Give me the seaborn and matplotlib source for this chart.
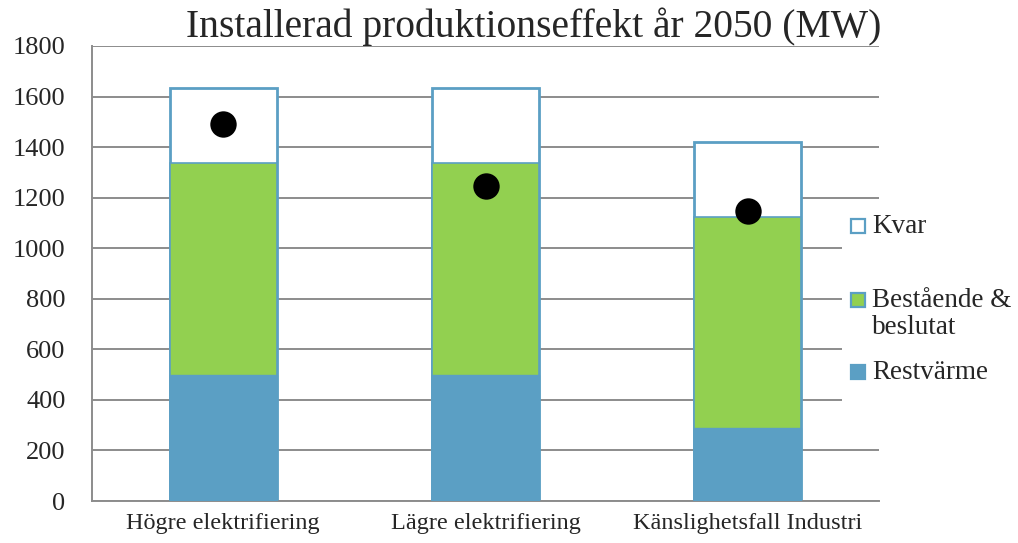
import pandas as pd
import matplotlib.pyplot as plt
import seaborn as sns
from matplotlib.patches import Rectangle

# Data
scenarios = ["Högre elektrifiering", "Lägre elektrifiering", "Känslighetsfall Industri"]
restvarme = [500, 500, 290]
bestaende = [837, 837, 833]
kvar = [298, 298, 297]
dots = [1490, 1246, 1147]
legend_labels = ["Kvar", "Bestående &\nbeslutat", "Restvärme"]

blue = "#5B9FC4"
green = "#92D050"

df = pd.DataFrame({"scenario": scenarios, "rest": restvarme,
                   "best": bestaende, "kvar": kvar, "dot": dots})
df["cum_best"] = df["rest"] + df["best"]
df["cum_kvar"] = df["cum_best"] + df["kvar"]

sns.set_style("white")
plt.rcParams["font.family"] = ["Liberation Serif", "DejaVu Serif"]

W, H = 1018, 543
fig, ax = plt.subplots(figsize=(W / 100, H / 100), dpi=100)

# stacked bars drawn as overlapping cumulative totals
sns.barplot(data=df, x="scenario", y="cum_kvar", color="white", edgecolor=blue,
            linewidth=2, width=0.408, saturation=1, ax=ax, zorder=2)
sns.barplot(data=df, x="scenario", y="cum_best", color=green, edgecolor=blue,
            linewidth=1.2, width=0.408, saturation=1, ax=ax, zorder=3)
sns.barplot(data=df, x="scenario", y="rest", color=blue, edgecolor=blue,
            linewidth=1, width=0.408, saturation=1, ax=ax, zorder=4)
sns.stripplot(data=df, x="scenario", y="dot", color="black", size=19,
              jitter=False, ax=ax, zorder=5)

ax.set_ylim(0, 1800)
ax.set_xlim(-0.5, 2.5)
ax.set_yticks(range(0, 1801, 200))
ax.yaxis.grid(True, color="#8c8c8c", linewidth=1.4)
ax.set_axisbelow(True)
ax.set_xlabel("")
ax.set_ylabel("")
for s in ["top", "right"]:
    ax.spines[s].set_visible(False)
for s in ["left", "bottom"]:
    ax.spines[s].set_color("#8c8c8c")
    ax.spines[s].set_linewidth(1.4)
ax.tick_params(axis="y", labelsize=19, length=0, pad=19)
ax.tick_params(axis="x", labelsize=17.5, length=0, pad=9)

fig.text(533.5 / W, 1 - 37 / H, "Installerad produktionseffekt år 2050 (MW)",
         fontsize=28.5, ha="center", va="baseline")

# legend (Excel style: handle aligned with the first text line)
fig.add_artist(Rectangle((842 / W, 1 - 405 / H), (W - 842) / W, 200 / H,
                         transform=fig.transFigure, facecolor="white",
                         edgecolor="none", zorder=10))
handle_y = [226, 300, 372]
handle_fc = ["white", green, blue]
for yc, fc, lab in zip(handle_y, handle_fc, legend_labels):
    fig.add_artist(Rectangle((851 / W, 1 - (yc + 7) / H), 14 / W, 14 / H,
                             transform=fig.transFigure, facecolor=fc,
                             edgecolor=blue, linewidth=1.6, zorder=11))
    for i, line in enumerate(lab.split("\n")):
        fig.text(872 / W, 1 - (yc + 7 + 27 * i) / H, line, fontsize=19.5,
                 ha="left", va="baseline", zorder=12)

plt.subplots_adjust(left=92 / W, right=879 / W, top=1 - 46 / H, bottom=1 - 501 / H)
plt.savefig("out.png", dpi=100)
